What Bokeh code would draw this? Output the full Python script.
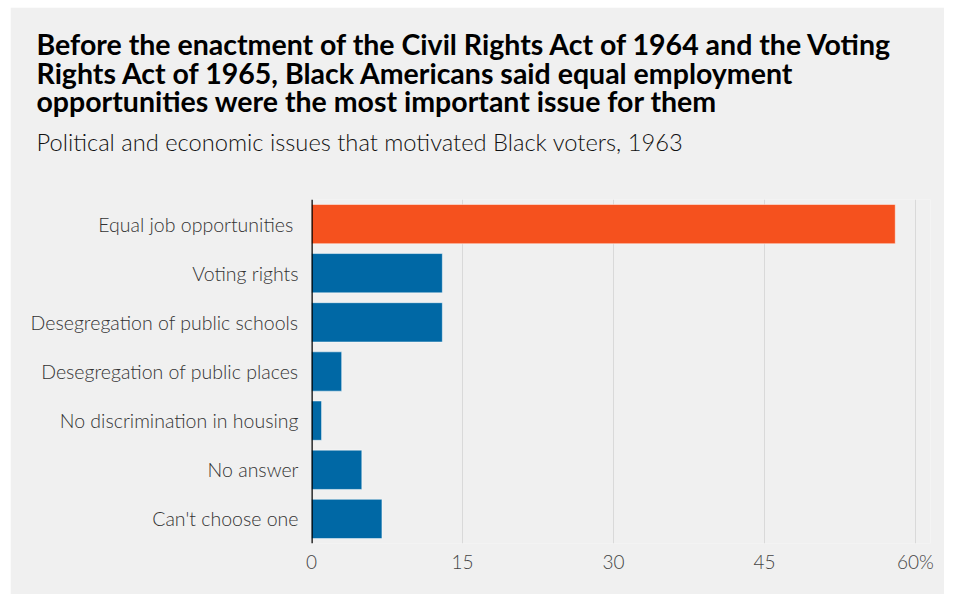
from bokeh.plotting import figure
from bokeh.models import Title, Range1d, FixedTicker, Span, ColumnDataSource, FactorRange
from bokeh.embed import file_html
from bokeh.resources import INLINE

categories = ["Equal job opportunities ", "Voting rights", "Desegregation of public schools",
              "Desegregation of public places", "No discrimination in housing", "No answer",
              "Can't choose one"]
values = [58, 13, 13, 3, 1, 5, 7]
highlight = "Equal job opportunities "
tick_values = [0, 15, 30, 45, 60]
tick_labels = ["0", "15", "30", "45", "60%"]
title_lines = ["Before the enactment of the Civil Rights Act of 1964 and the Voting",
               "Rights Act of 1965, Black Americans said equal employment",
               "opportunities were the most important issue for them"]
subtitle = "Political and economic issues that motivated Black voters, 1963"

ORANGE = "#f5511e"
BLUE = "#0068a5"
BG = "#f0f0f0"
TFONT = "Lato"
FONT = "'Lato Light', Lato"

colors = [ORANGE if c == highlight else BLUE for c in categories]
src = ColumnDataSource(dict(cat=categories, val=values, color=colors))

p = figure(width=934, height=587, output_backend="svg", toolbar_location=None,
           y_range=FactorRange(factors=list(reversed(categories))),
           x_range=Range1d(0, 61.5),
           min_border_left=301, min_border_right=14, min_border_bottom=51, min_border_top=192,
           background_fill_color=BG, border_fill_color=BG, outline_line_color=None,
           margin=(7, 10, 4, 10))

p.hbar(y="cat", left=0, right="val", height=0.8, fill_color="color",
       line_color="white", line_alpha=0.5, line_width=1, source=src)

p.add_layout(Span(location=0, dimension="height", line_color="black", line_width=2.5))

p.xaxis.ticker = FixedTicker(ticks=tick_values)
p.xaxis.major_label_overrides = {v: l for v, l in zip(tick_values, tick_labels)}
p.xaxis.axis_line_color = None
p.xaxis.major_tick_line_color = None
p.xaxis.minor_tick_line_color = None
p.xaxis.major_label_text_font = FONT
p.xaxis.major_label_text_font_size = "19px"
p.xaxis.major_label_text_color = "#444444"
p.xaxis.major_label_standoff = 0

p.yaxis.axis_line_color = None
p.yaxis.major_tick_line_color = None
p.yaxis.minor_tick_line_color = None
p.yaxis.major_label_text_font = FONT
p.yaxis.major_label_text_font_size = "19.5px"
p.yaxis.major_label_text_color = "#333333"
p.yaxis.major_label_standoff = 7

p.xgrid.ticker = FixedTicker(ticks=tick_values)
p.xgrid.grid_line_color = "#d9d9d9"
p.ygrid.grid_line_color = None

p.add_layout(Title(text=subtitle, text_font=FONT, text_font_size="23.7px",
                   text_font_style="normal", text_color="#111111", align="left",
                   offset=-275, standoff=88), "above")
p.add_layout(Title(text="\n".join(title_lines), text_font=TFONT, text_font_size="28.5px",
                   text_font_style="bold", text_color="#000000", align="left",
                   text_line_height=0.85, offset=-275, standoff=-74), "above")

open("out.html", "w").write(file_html(p, INLINE))
